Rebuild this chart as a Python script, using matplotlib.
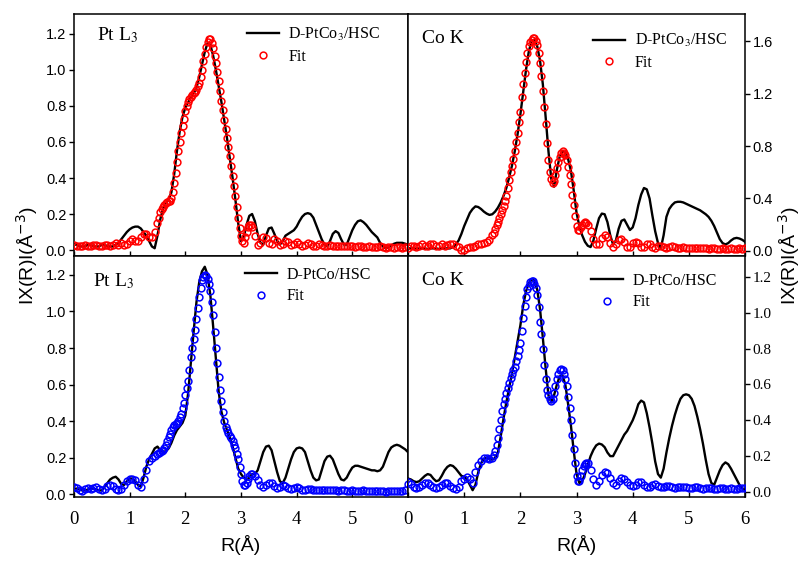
import numpy as np
import matplotlib.pyplot as plt

plt.rcParams['mathtext.fontset'] = 'stix'

# R grid (Å) for the measured curves, 0.05 step
r = np.round(np.arange(0, 6.001, 0.05), 2)
# R grid for the fit circles: denser through the main shells
r_fit = np.round(np.concatenate([np.arange(0, 1.49, 0.05),
                                 np.arange(1.5, 3.19, 0.025),
                                 np.arange(3.2, 6.001, 0.05)]), 3)

# ---- D-PtCo3/HSC, Pt L3 ----
ptco3_pt_data = [
    0.03, 0.03, 0.02, 0.02, 0.02, 0.03, 0.03, 0.02, 0.02, 0.02, 0.03, 0.03, 0.02, 0.02, 0.02,
    0.03, 0.04, 0.06, 0.08, 0.10, 0.115, 0.125, 0.13, 0.13, 0.12, 0.10, 0.08, 0.05, 0.02, 0.01,
    0.08, 0.17, 0.23, 0.26, 0.28, 0.32, 0.42, 0.55, 0.66, 0.74, 0.79, 0.82, 0.85, 0.87, 0.90,
    0.96, 1.03, 1.10, 1.15, 1.14, 1.08, 1.00, 0.91, 0.82, 0.72, 0.62, 0.51, 0.40, 0.28, 0.15,
    0.05, 0.07, 0.14, 0.19, 0.20, 0.16, 0.09, 0.04, 0.03, 0.08, 0.12, 0.125, 0.09, 0.05, 0.03,
    0.05, 0.08, 0.09, 0.10, 0.11, 0.13, 0.16, 0.185, 0.20, 0.205, 0.20, 0.18, 0.14, 0.10, 0.06,
    0.03, 0.02, 0.05, 0.09, 0.105, 0.095, 0.06, 0.03, 0.03, 0.07, 0.11, 0.14, 0.16, 0.165, 0.155,
    0.14, 0.12, 0.10, 0.085, 0.07, 0.04, 0.02, 0.01, 0.015, 0.025, 0.035, 0.04, 0.04, 0.04, 0.035,
    0.03,
]
ptco3_pt_fit = [
    # 0.00 - 1.45
    0.03, 0.025, 0.02, 0.02, 0.03, 0.025, 0.02, 0.03, 0.03, 0.02, 0.02, 0.03, 0.03, 0.02, 0.03,
    0.04, 0.03, 0.04, 0.03, 0.035, 0.05, 0.06, 0.05, 0.05, 0.07, 0.09, 0.09, 0.07, 0.07, 0.10,
    # 1.500 - 3.175
    0.15, 0.18, 0.21, 0.23, 0.24, 0.25, 0.26, 0.265, 0.27, 0.275, 0.29, 0.32, 0.37, 0.43, 0.49,
    0.55, 0.60, 0.65, 0.69, 0.73, 0.77, 0.80, 0.82, 0.84, 0.85, 0.86, 0.87, 0.88, 0.89, 0.91,
    0.93, 0.96, 1.00, 1.05, 1.09, 1.13, 1.155, 1.17, 1.17, 1.15, 1.12, 1.08, 1.04, 0.99, 0.94,
    0.885, 0.83, 0.775, 0.72, 0.67, 0.62, 0.57, 0.52, 0.465, 0.41, 0.355, 0.30, 0.24, 0.18, 0.12,
    0.08, 0.05, 0.04, 0.07, 0.10, 0.13, 0.14, 0.14,
    # 3.20 - 6.00
    0.13, 0.08, 0.03, 0.04, 0.07, 0.065, 0.04, 0.035, 0.06, 0.05, 0.03, 0.035, 0.05, 0.045, 0.03,
    0.035, 0.045, 0.035, 0.025, 0.03, 0.04, 0.035, 0.025, 0.025, 0.035, 0.03, 0.02, 0.025, 0.03, 0.025,
    0.02, 0.025, 0.025, 0.02, 0.02, 0.025, 0.02, 0.015, 0.02, 0.02, 0.015, 0.015, 0.02, 0.015, 0.015,
    0.015, 0.02, 0.015, 0.01, 0.015, 0.015, 0.01, 0.015, 0.015, 0.01, 0.015, 0.015,
]

# ---- D-PtCo3/HSC, Co K ----
ptco3_co_data = [
    0.02, 0.02, 0.02, 0.015, 0.02, 0.02, 0.02, 0.015, 0.02, 0.02, 0.02, 0.015, 0.02, 0.02, 0.02,
    0.02, 0.03, 0.05, 0.08, 0.13, 0.19, 0.24, 0.29, 0.32, 0.34, 0.335, 0.32, 0.30, 0.285, 0.275,
    0.28, 0.30, 0.33, 0.37, 0.42, 0.48, 0.56, 0.65, 0.76, 0.89, 1.04, 1.21, 1.38, 1.52, 1.60,
    1.61, 1.56, 1.45, 1.27, 1.02, 0.76, 0.55, 0.49, 0.62, 0.72, 0.76, 0.75, 0.70, 0.61, 0.46,
    0.29, 0.19, 0.12, 0.07, 0.04, 0.03, 0.08, 0.17, 0.25, 0.285, 0.28, 0.22, 0.12, 0.05, 0.08,
    0.17, 0.23, 0.24, 0.20, 0.16, 0.18, 0.25, 0.35, 0.43, 0.48, 0.47, 0.40, 0.27, 0.15, 0.06,
    0.02, 0.12, 0.26, 0.32, 0.35, 0.37, 0.375, 0.375, 0.37, 0.36, 0.35, 0.34, 0.33, 0.32, 0.31,
    0.295, 0.28, 0.26, 0.23, 0.19, 0.14, 0.09, 0.06, 0.05, 0.06, 0.08, 0.095, 0.10, 0.095, 0.085,
    0.07,
]
ptco3_co_fit = [
    # 0.00 - 1.45
    0.02, 0.035, 0.04, 0.03, 0.04, 0.05, 0.04, 0.035, 0.05, 0.055, 0.04, 0.04, 0.05, 0.04, 0.045,
    0.055, 0.05, 0.04, 0.03, 0.01, 0.01, 0.02, 0.03, 0.03, 0.04, 0.05, 0.05, 0.06, 0.07, 0.08,
    # 1.500 - 3.175
    0.12, 0.14, 0.17, 0.195, 0.22, 0.25, 0.28, 0.31, 0.34, 0.38, 0.42, 0.48, 0.54, 0.60, 0.65,
    0.70, 0.76, 0.83, 0.90, 0.98, 1.06, 1.17, 1.27, 1.36, 1.44, 1.51, 1.56, 1.59, 1.61, 1.62,
    1.62, 1.60, 1.57, 1.51, 1.43, 1.33, 1.22, 1.10, 0.97, 0.82, 0.69, 0.60, 0.55, 0.52, 0.53,
    0.58, 0.63, 0.68, 0.72, 0.75, 0.76, 0.75, 0.73, 0.69, 0.64, 0.58, 0.51, 0.43, 0.35, 0.27,
    0.19, 0.16, 0.16, 0.18, 0.20, 0.215, 0.22, 0.215,
    # 3.20 - 6.00
    0.20, 0.15, 0.09, 0.05, 0.05, 0.10, 0.12, 0.11, 0.06, 0.03, 0.05, 0.08, 0.09, 0.07, 0.03,
    0.03, 0.06, 0.07, 0.06, 0.03, 0.03, 0.05, 0.05, 0.03, 0.02, 0.04, 0.04, 0.03, 0.02, 0.03,
    0.035, 0.03, 0.02, 0.025, 0.03, 0.025, 0.02, 0.025, 0.025, 0.02, 0.02, 0.025, 0.02, 0.015, 0.02,
    0.02, 0.015, 0.015, 0.02, 0.015, 0.015, 0.02, 0.015, 0.015, 0.02, 0.015, 0.02,
]

# ---- D-PtCo/HSC, Pt L3 ----
ptco_pt_data = [
    0.03, 0.03, 0.025, 0.02, 0.02, 0.025, 0.03, 0.03, 0.025, 0.02, 0.02, 0.04, 0.06, 0.08, 0.09,
    0.095, 0.08, 0.055, 0.05, 0.07, 0.085, 0.085, 0.07, 0.05, 0.04, 0.09, 0.15, 0.19, 0.22, 0.25,
    0.26, 0.24, 0.23, 0.235, 0.25, 0.28, 0.32, 0.35, 0.37, 0.39, 0.43, 0.55, 0.72, 0.89, 1.05,
    1.16, 1.22, 1.245, 1.20, 1.09, 0.92, 0.74, 0.56, 0.45, 0.39, 0.35, 0.31, 0.26, 0.20, 0.14,
    0.11, 0.09, 0.08, 0.09, 0.11, 0.11, 0.13, 0.18, 0.23, 0.26, 0.265, 0.24, 0.18, 0.12, 0.07,
    0.06, 0.09, 0.14, 0.19, 0.23, 0.25, 0.255, 0.25, 0.23, 0.18, 0.13, 0.09, 0.075, 0.08, 0.13,
    0.18, 0.205, 0.21, 0.19, 0.15, 0.11, 0.08, 0.075, 0.09, 0.12, 0.145, 0.155, 0.155, 0.15, 0.145,
    0.14, 0.135, 0.13, 0.13, 0.125, 0.13, 0.15, 0.19, 0.23, 0.255, 0.265, 0.27, 0.265, 0.255, 0.245,
    0.23,
]
ptco_pt_fit = [
    # 0.00 - 1.45
    0.04, 0.035, 0.02, 0.015, 0.03, 0.035, 0.03, 0.035, 0.04, 0.03, 0.02, 0.03, 0.045, 0.05, 0.045,
    0.03, 0.02, 0.03, 0.05, 0.07, 0.08, 0.085, 0.075, 0.05, 0.04, 0.08, 0.13, 0.18, 0.20, 0.21,
    # 1.500 - 3.175
    0.22, 0.225, 0.23, 0.235, 0.24, 0.25, 0.27, 0.29, 0.31, 0.33, 0.35, 0.37, 0.38, 0.385, 0.39,
    0.40, 0.42, 0.44, 0.47, 0.50, 0.54, 0.58, 0.62, 0.68, 0.75, 0.80, 0.85, 0.90, 0.96, 1.02,
    1.08, 1.13, 1.17, 1.19, 1.20, 1.195, 1.18, 1.15, 1.11, 1.05, 0.98, 0.89, 0.80, 0.72, 0.64,
    0.57, 0.51, 0.45, 0.40, 0.37, 0.35, 0.335, 0.32, 0.305, 0.29, 0.27, 0.25, 0.22, 0.19, 0.15,
    0.11, 0.07, 0.05, 0.05, 0.06, 0.08, 0.10, 0.11,
    # 3.20 - 6.00
    0.11, 0.10, 0.075, 0.05, 0.04, 0.05, 0.06, 0.06, 0.045, 0.035, 0.04, 0.05, 0.045, 0.035, 0.03,
    0.035, 0.04, 0.035, 0.025, 0.025, 0.03, 0.03, 0.025, 0.02, 0.025, 0.025, 0.02, 0.02, 0.02, 0.025,
    0.02, 0.015, 0.02, 0.02, 0.015, 0.015, 0.02, 0.015, 0.015, 0.015, 0.02, 0.015, 0.015, 0.015, 0.015,
    0.015, 0.015, 0.015, 0.01, 0.015, 0.015, 0.015, 0.015, 0.015, 0.015, 0.02, 0.055,
]

# ---- D-PtCo/HSC, Co K ----
ptco_co_data = [
    0.075, 0.07, 0.06, 0.055, 0.06, 0.075, 0.09, 0.10, 0.095, 0.075, 0.06, 0.065, 0.09, 0.12, 0.14,
    0.15, 0.145, 0.13, 0.11, 0.09, 0.085, 0.07, 0.04, 0.01, 0.04, 0.11, 0.16, 0.185, 0.19, 0.185,
    0.18, 0.19, 0.22, 0.31, 0.41, 0.50, 0.58, 0.66, 0.75, 0.84, 0.93, 1.04, 1.12, 1.165, 1.185,
    1.18, 1.13, 1.02, 0.86, 0.69, 0.54, 0.50, 0.54, 0.60, 0.645, 0.65, 0.60, 0.49, 0.37, 0.23,
    0.10, 0.05, 0.06, 0.10, 0.15, 0.20, 0.235, 0.26, 0.27, 0.265, 0.25, 0.22, 0.20, 0.20, 0.23,
    0.26, 0.29, 0.32, 0.34, 0.37, 0.40, 0.44, 0.49, 0.51, 0.50, 0.44, 0.36, 0.27, 0.17, 0.10,
    0.08, 0.13, 0.22, 0.30, 0.37, 0.43, 0.48, 0.52, 0.54, 0.545, 0.54, 0.52, 0.48, 0.42, 0.35,
    0.27, 0.18, 0.10, 0.05, 0.04, 0.08, 0.12, 0.15, 0.165, 0.155, 0.13, 0.10, 0.07, 0.04, 0.02,
    0.01,
]
ptco_co_fit = [
    # 0.00 - 1.45
    0.055, 0.045, 0.03, 0.02, 0.025, 0.04, 0.05, 0.05, 0.04, 0.03, 0.02, 0.025, 0.04, 0.05, 0.05,
    0.035, 0.02, 0.015, 0.03, 0.06, 0.075, 0.085, 0.07, 0.05, 0.11, 0.15, 0.175, 0.19, 0.19, 0.185,
    # 1.500 - 3.175
    0.19, 0.205, 0.23, 0.26, 0.30, 0.35, 0.40, 0.45, 0.49, 0.52, 0.55, 0.58, 0.61, 0.635, 0.66,
    0.68, 0.70, 0.73, 0.76, 0.79, 0.83, 0.90, 0.97, 1.04, 1.09, 1.13, 1.15, 1.17, 1.18, 1.175,
    1.16, 1.14, 1.10, 1.03, 0.95, 0.88, 0.80, 0.71, 0.63, 0.57, 0.54, 0.52, 0.51, 0.52, 0.55,
    0.59, 0.63, 0.66, 0.68, 0.685, 0.68, 0.66, 0.63, 0.59, 0.53, 0.47, 0.40, 0.32, 0.24, 0.16,
    0.09, 0.06, 0.06, 0.09, 0.12, 0.145, 0.155, 0.16,
    # 3.20 - 6.00
    0.16, 0.12, 0.07, 0.04, 0.06, 0.095, 0.11, 0.105, 0.08, 0.05, 0.04, 0.06, 0.08, 0.075, 0.055,
    0.04, 0.035, 0.04, 0.055, 0.055, 0.04, 0.03, 0.03, 0.04, 0.045, 0.035, 0.025, 0.025, 0.035, 0.035,
    0.03, 0.02, 0.025, 0.03, 0.03, 0.025, 0.02, 0.02, 0.025, 0.025, 0.02, 0.015, 0.02, 0.02, 0.02,
    0.015, 0.015, 0.02, 0.02, 0.015, 0.015, 0.02, 0.015, 0.015, 0.02, 0.02, 0.02,
]

panels = [
    # data, fit, sample, edge, fit colour, ylim, yticks, position, tick side, legend anchor, label pos
    (ptco3_pt_data, ptco3_pt_fit, 'D-PtCo$_3$/HSC', 'Pt L$_3$', 'red', (-0.033, 1.311),
     np.arange(0, 1.21, 0.2), [0.092, 0.5437, 0.4154, 0.4314], 'left', (0.518, 0.95), (0.069, 0.893)),
    (ptco3_co_data, ptco3_co_fit, 'D-PtCo$_3$/HSC', 'Co K', 'red', (-0.038, 1.806),
     np.arange(0, 1.61, 0.4), [0.5075, 0.5437, 0.4192, 0.4314], 'right', (0.549, 0.925), (0.042, 0.88)),
    (ptco_pt_data, ptco_pt_fit, 'D-PtCo/HSC', 'Pt L$_3$', 'blue', (-0.016, 1.304),
     np.arange(0, 1.21, 0.2), [0.092, 0.1141, 0.4154, 0.4296], 'left', (0.512, 0.955), (0.057, 0.876)),
    (ptco_co_data, ptco_co_fit, 'D-PtCo/HSC', 'Co K', 'blue', (-0.028, 1.317),
     np.arange(0, 1.21, 0.2), [0.5075, 0.1141, 0.4192, 0.4296], 'right', (0.542, 0.93), (0.042, 0.88)),
]

fig = plt.figure(figsize=(8.04, 5.61), dpi=100)

for i, (data, fit, sample, edge, color, ylim, yticks, pos, side, leg_xy, lab_xy) in enumerate(panels):
    assert len(data) == len(r) and len(fit) == len(r_fit)
    ax = fig.add_axes(pos)
    ax.plot(r, data, color='black', linewidth=1.7, label=sample, zorder=2)
    ax.plot(r_fit, fit, linestyle='none', marker='o', markersize=4.9, markerfacecolor='none',
            markeredgecolor=color, markeredgewidth=1.1, label='Fit', zorder=3)

    ax.set_xlim(0, 6)
    ax.set_ylim(*ylim)
    ax.set_yticks(yticks)
    ax.set_xticks(range(0, 7))
    for s in ax.spines.values():
        s.set_linewidth(1.1)

    if side == 'right':
        ax.yaxis.tick_right()
    ax.tick_params(axis='y', direction='out', length=3.5, width=1, pad=2)
    ax.tick_params(axis='x', direction='in', length=3.5, width=1, pad=10)

    # y tick label fonts differ between panels in the original
    yfam = 'Liberation Serif' if i == 3 else 'Liberation Sans'
    ysize = 11 if i == 3 else 10.5
    ax.set_yticklabels([f'{v:.1f}' for v in yticks], family=yfam, fontsize=ysize)

    if i < 2:
        ax.tick_params(axis='x', labelbottom=False)
    else:
        xlabels = [str(v) for v in range(0, 7)]
        if i == 2:
            xlabels[-1] = ''
        ax.set_xticklabels(xlabels, family='Liberation Serif', fontsize=13.5)
        ax.set_xlabel('R(Å)', family='Liberation Sans', fontsize=14, labelpad=5)

    ax.text(lab_xy[0], lab_xy[1], edge, transform=ax.transAxes, family='Liberation Serif',
            fontsize=14, va='baseline', ha='left')

    ax.legend(loc='upper left', bbox_to_anchor=leg_xy, frameon=False, borderpad=0,
              borderaxespad=0, handlelength=2.0, handletextpad=0.6, labelspacing=0.35,
              numpoints=1, prop={'family': 'Liberation Serif', 'size': 11.5})

fig.text(0.034, 0.545, 'IX(R)I(Å$^{-3}$)', rotation=90, ha='center', va='center',
         family='Liberation Sans', fontsize=14, math_fontfamily='dejavusans')
fig.text(0.982, 0.545, 'IX(R)I(Å$^{-3}$)', rotation=90, ha='center', va='center',
         family='Liberation Sans', fontsize=14, math_fontfamily='dejavusans')

plt.savefig('out.png', dpi=100)
